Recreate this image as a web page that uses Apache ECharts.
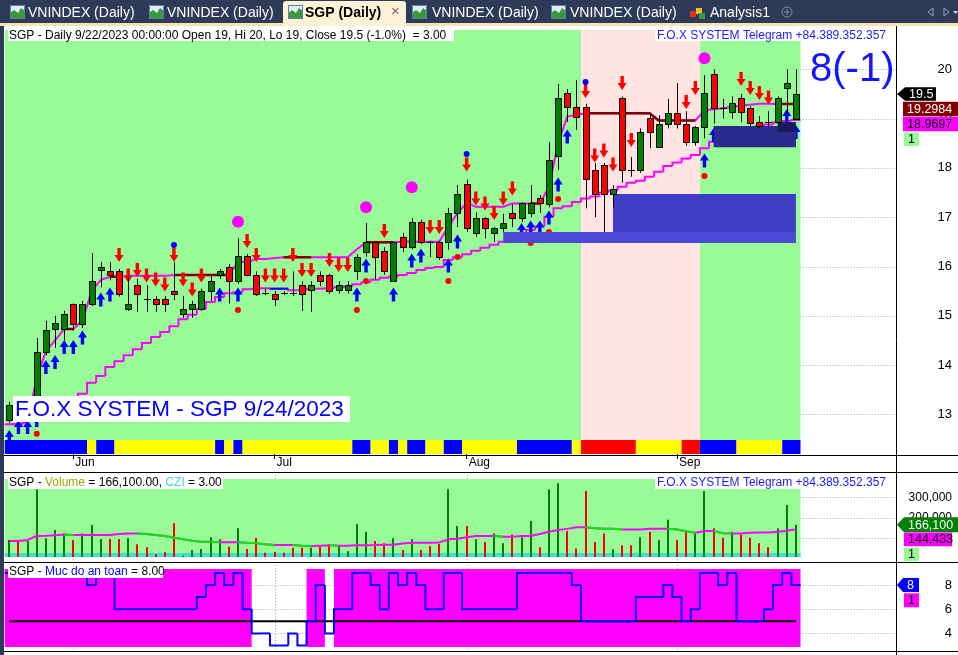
<!DOCTYPE html>
<html><head><meta charset="utf-8">
<script src="https://cdn.jsdelivr.net/npm/echarts@6/dist/echarts.min.js"></script>
<style>html,body{margin:0;padding:0;background:#fff}#c{width:958px;height:655px}</style>
</head><body><div id="c"></div>
<script>
// ---------------- DATA ----------------
const dates = [
 '2023-05-23','2023-05-24','2023-05-25','2023-05-26','2023-05-29','2023-05-30','2023-05-31',
 '2023-06-01','2023-06-02','2023-06-05','2023-06-06','2023-06-07','2023-06-08','2023-06-09','2023-06-12','2023-06-13','2023-06-14','2023-06-15','2023-06-16','2023-06-19','2023-06-20','2023-06-21','2023-06-22','2023-06-23','2023-06-26','2023-06-27','2023-06-28','2023-06-29','2023-06-30',
 '2023-07-03','2023-07-04','2023-07-05','2023-07-06','2023-07-07','2023-07-10','2023-07-11','2023-07-12','2023-07-13','2023-07-14','2023-07-17','2023-07-18','2023-07-19','2023-07-20','2023-07-21','2023-07-24','2023-07-25','2023-07-26','2023-07-27','2023-07-28','2023-07-31',
 '2023-08-01','2023-08-02','2023-08-03','2023-08-04','2023-08-07','2023-08-08','2023-08-09','2023-08-10','2023-08-11','2023-08-14','2023-08-15','2023-08-16','2023-08-17','2023-08-18','2023-08-21','2023-08-22','2023-08-23','2023-08-24','2023-08-25','2023-08-28','2023-08-29','2023-08-30','2023-08-31',
 '2023-09-05','2023-09-06','2023-09-07','2023-09-08','2023-09-11','2023-09-12','2023-09-13','2023-09-14','2023-09-15','2023-09-18','2023-09-19','2023-09-20','2023-09-21','2023-09-22'];
const monthNames = ['Jan','Feb','Mar','Apr','May','Jun','Jul','Aug','Sep','Oct','Nov','Dec'];

const open = [12.89,13.15,13.05,13.10,14.27,14.73,14.73,15.24,14.83,15.24,
 15.93,15.90,15.90,15.14,15.62,15.34,15.34,15.34,15.50,15.03,
 15.14,15.14,15.50,15.82,16.00,15.71,16.21,15.82,15.46,15.44,
 15.46,15.46,15.62,15.52,15.82,15.82,15.52,15.52,15.90,16.29,
 16.49,16.31,15.71,16.60,16.39,16.90,16.49,16.49,16.49,17.09,
 17.67,16.68,16.98,16.68,16.78,17.09,16.98,17.09,17.39,17.27,
 18.24,19.52,19.23,19.23,17.96,18.06,17.47,19.42,17.96,17.96,
 19.01,18.42,18.90,19.11,18.90,18.52,18.83,19.90,19.21,19.13,
 19.42,19.21,18.93,18.93,18.93,19.62,19.00];
const high = [13.25,13.30,13.25,14.55,14.90,15.00,15.10,15.25,15.30,16.27,
 16.09,16.09,15.95,15.79,15.75,15.62,15.40,15.40,16.09,15.40,
 15.30,15.55,15.80,15.95,16.05,16.57,16.25,15.90,15.55,15.50,
 15.50,15.90,15.70,15.70,15.90,15.85,15.70,15.70,16.25,16.88,
 16.50,16.39,16.50,16.68,16.98,16.95,16.52,16.52,17.19,17.65,
 17.76,17.10,17.00,16.80,17.07,17.26,17.30,17.65,17.45,18.52,
 19.70,19.60,19.78,19.30,18.10,18.10,17.65,19.45,18.22,18.80,
 19.10,19.07,19.40,19.72,19.15,18.85,19.88,20.00,19.40,19.45,
 19.50,19.25,19.05,19.15,19.45,20.00,20.00];
const low = [12.83,12.95,12.95,13.00,14.20,14.35,14.50,14.70,14.75,15.20,
 15.58,15.72,15.39,15.10,15.08,15.08,15.08,15.08,15.32,14.96,
 14.96,15.10,15.30,15.75,15.25,15.65,15.80,15.40,15.42,15.20,
 15.42,15.40,15.10,15.08,15.60,15.45,15.45,15.45,15.73,16.20,
 15.73,15.83,15.70,16.29,16.35,16.45,16.19,16.13,16.34,16.80,
 16.70,16.60,16.57,16.50,16.70,16.80,16.90,17.00,17.09,17.20,
 17.96,18.93,18.77,17.18,17.00,16.70,17.20,17.70,17.82,17.90,
 18.40,18.42,18.80,18.80,18.45,18.45,18.60,18.90,19.00,19.00,
 18.93,18.83,18.80,18.85,18.90,19.10,19.00];
const close = [13.19,13.05,13.15,14.27,14.71,14.85,15.03,14.83,15.24,15.71,
 16.00,15.82,15.44,15.24,15.44,15.34,15.24,15.24,15.44,15.14,
 15.24,15.50,15.71,15.90,15.71,16.21,15.82,15.44,15.46,15.34,
 15.46,15.46,15.44,15.62,15.71,15.50,15.62,15.62,16.19,16.49,
 16.19,15.90,16.49,16.39,16.90,16.49,16.49,16.19,17.09,17.47,
 16.78,16.98,16.78,16.78,16.88,16.98,17.29,17.29,17.29,18.16,
 19.42,19.23,19.03,17.77,17.47,17.47,17.57,17.96,17.96,18.73,
 18.73,18.90,19.11,18.90,18.52,18.83,19.52,19.21,19.21,19.32,
 19.13,18.92,18.85,18.93,19.42,19.72,19.50];

// fast trend line (magenta) and its flat resistance parts (dark red)
const fastLine = [12.80,12.80,12.85,13.75,14.28,14.50,14.73,14.73,14.90,15.50,
 15.73,15.79,15.79,15.81,15.81,15.81,15.81,15.81,15.83,15.83,
 15.83,15.83,15.83,15.83,15.83,16.09,16.09,16.15,16.15,16.17,
 16.19,16.19,16.19,16.19,16.19,16.19,16.19,16.19,16.35,16.49,
 16.49,16.49,16.49,16.50,16.50,16.50,16.50,16.50,16.81,17.08,
 17.29,17.21,17.21,17.21,17.21,17.28,17.28,17.28,17.28,17.62,
 18.50,19.04,19.08,19.11,19.11,19.11,19.11,19.11,19.11,19.11,
 19.11,18.96,18.96,18.96,18.96,18.96,19.17,19.19,19.21,19.24,
 19.26,19.28,19.30,19.30,19.2984,19.2984,19.2984];
const resistance = [null,null,null,null,null,null,14.73,14.73,null,null,
 null,15.79,15.79,null,null,null,null,null,15.83,15.83,
 15.83,15.83,15.83,15.83,15.83,null,null,null,null,null,
 16.19,16.19,16.19,16.19,null,null,null,null,null,16.49,
 16.49,16.49,16.49,null,null,null,null,null,null,null,
 null,null,null,null,null,null,null,17.28,17.28,null,
 null,null,null,19.11,19.11,19.11,19.11,19.11,19.11,19.11,
 19.11,18.96,18.96,18.96,18.96,18.96,null,null,null,null,
 null,null,null,null,19.2984,19.2984,19.2984];
// slow trailing line (magenta staircase) and its flat part (blue)
const slowLine = [12.80,12.80,12.88,12.96,13.05,13.14,13.22,13.32,13.42,13.64,
 13.78,13.96,14.08,14.20,14.32,14.45,14.57,14.67,14.79,14.93,
 15.02,15.14,15.28,15.38,15.46,15.48,15.54,15.55,15.56,15.55,
 15.55,15.52,15.52,15.55,15.55,15.56,15.58,15.59,15.64,15.68,
 15.73,15.77,15.79,15.83,15.87,15.93,15.97,15.99,16.13,16.19,
 16.25,16.32,16.38,16.44,16.50,16.58,16.66,16.74,16.81,17.01,
 17.18,17.22,17.31,17.38,17.42,17.50,17.54,17.62,17.70,17.74,
 17.82,17.92,18.04,18.11,18.19,18.26,18.40,18.53,18.60,18.67,
 18.73,18.79,18.84,18.88,18.92,18.95,18.9697];
const slowFlat = [[29,15.55],[30,15.55]];

// bottom ribbon state per bar (B blue, Y yellow, R red) and background regime (0 green, 1 pink)
const ribbon = ['B','B','B','B','B','B','B','B','B','Y','B','B','Y','Y','Y','Y','Y','Y','Y','Y',
 'Y','Y','Y','B','Y','B','Y','Y','Y','Y','Y','Y','Y','Y','Y','Y','Y','Y','B','B',
 'Y','Y','B','Y','B','B','Y','Y','B','B','Y','Y','Y','Y','Y','Y','B','B','B','B',
 'B','B','Y','R','R','R','R','R','R','Y','Y','Y','Y','Y','R','R','B','B','B','B',
 'Y','Y','Y','Y','Y','B','B'];
const regime = [0,0,0,0,0,0,0,0,0,0,0,0,0,0,0,0,0,0,0,0,0,0,0,0,0,0,0,0,0,0,
 0,0,0,0,0,0,0,0,0,0,0,0,0,0,0,0,0,0,0,0,0,0,0,0,0,0,0,0,0,0,
 0,0,0,1,1,1,1,1,1,1,1,1,1,1,1,1,0,0,0,0,0,0,0,0,0,0,0];

// signals: [bar, price]
const sellArrows = [[12,16.233],[13,15.817],[14,15.929],[15,15.817],[16,15.736],[17,15.635],[18,16.233],[19,15.736],[20,15.533],[21,15.817],
 [26,16.517],[27,16.233],[28,15.817],[29,15.817],[30,15.817],[31,16.233],[32,15.929],[33,15.929],[35,16.132],[36,16.030],[37,16.030],
 [41,16.720],[46,16.801],[47,16.801],[50,18.069],[51,17.379],[52,17.278],[53,17.085],[54,17.379],[55,17.582],
 [63,19.560],[64,18.252],[65,18.353],[66,18.069],[67,19.722],[68,18.566],[74,19.337],[75,19.621],[80,19.803],[81,19.621],[82,19.519],[83,19.428]];
const buyArrows = [[0,12.54],[1,12.744],[2,12.744],[3,12.886],[4,13.961],[5,14.063],[6,14.367],[7,14.367],[8,14.560],[10,15.331],[11,15.432],
 [23,15.432],[25,15.432],[38,15.432],[39,16.020],[42,15.432],[44,16.122],[45,16.223],[48,16.020],[49,16.507],
 [56,16.740],[57,16.791],[58,16.791],[59,16.994],[60,17.663],[61,18.637],[76,18.150],[77,18.667],[85,19.053],[86,18.728]];
const redDots = [[3,12.606],[25,15.118],[38,15.118],[39,15.706],[48,15.706],[49,16.193],[57,16.477],[59,16.700],[60,17.369],[76,17.836]];
const blueDots = [[18,16.436],[50,18.282],[63,19.742]];
const magentaCircles = [[25,16.909],[39,17.201],[44,17.606],[76,20.223]];
// zones: [fromBar, toBar, low, high, kind]
const zones = [[54,86,16.477,16.70,0],[66,86,16.70,17.47,1],[77,86,18.42,18.85,2],[84,86,18.73,18.93,3]];

const volume = [92000,87000,87000,339000,100000,140000,124000,92000,124000,165000,
 97000,97000,97000,100000,71000,56000,23000,32000,173000,15000,
 43000,48000,105000,95000,59000,149000,48000,102000,30000,33000,
 30000,54000,54000,54000,62000,71000,62000,37000,170000,132000,
 87000,76000,100000,43000,95000,43000,62000,72000,339000,160000,
 160000,95000,82000,124000,76000,119000,105000,184000,56000,339000,
 368000,136000,50000,331000,82000,124000,46000,66000,66000,105000,
 132000,92000,190000,92000,140000,127000,331000,149000,103000,132000,
 117000,103000,76000,56000,149000,262000,166100];
const volumeMA = [87000,87000,92000,111000,112000,115000,118000,116000,116000,116000,
 116000,116000,121000,124000,124000,121000,116000,111000,103000,95000,
 88000,83000,83000,81000,81000,81000,78000,76000,71000,67000,
 67000,67000,64000,62000,64000,66000,64000,64000,66000,66000,
 67000,69000,69000,75000,78000,78000,78000,80000,95000,98000,
 105000,111000,111000,111000,108000,108000,111000,111000,121000,132000,
 140000,146000,154000,154000,149000,146000,146000,143000,143000,143000,
 146000,146000,146000,143000,134000,127000,136000,136000,125000,124000,
 124000,127000,128000,128000,132000,137000,144433];

// "Muc do an toan" (safety level) per bar
const safety = [9,9,9,9,9,9,9,9,9,8,9,9,6,6,6,6,6,6,6,6,
 6,7,8,9,8,9,6,4,4,3,3,4,3,5,8,4,6,6,9,9,
 8,6,9,8,9,8,6,6,9,9,6,6,6,6,6,6,9,9,9,9,
 9,9,8,5,5,5,5,5,5,7,7,7,8,7,5,6,9,9,8,9,
 5,5,5,6,8,9,8];
const safetyThreshold = 5;

const priceTicks = [13,14,15,16,17,18,19,20];
const volumeTicks = [100000,200000,300000];
const safetyTicks = [4,6,8];

// ---------------- CHART ----------------
const FONT = '"Liberation Sans", Arial, sans-serif';
const N = close.length;
const X_MIN = -0.5, X_MAX = 96.94;
const monthStarts = [];
for (let i = 1; i < N; i++) if (dates[i].slice(5,7) !== dates[i-1].slice(5,7)) monthStarts.push(i);

const chart = echarts.init(document.getElementById('c'), null, {renderer:'canvas', width:958, height:655});

function runs(arr, key) {
  const out = []; let s = 0;
  for (let i = 1; i <= arr.length; i++) {
    if (i === arr.length || key(arr[i]) !== key(arr[s])) { out.push([s, i - 1, key(arr[s])]); s = i; }
  }
  return out;
}
function stairs(values, color, width) {
  return function (params, api) {
    const i = api.value(0), v = api.value(1);
    const pts = [];
    const prev = i > 0 ? values[i - 1] : null;
    if (prev != null) pts.push(api.coord([i - 0.5, prev]));
    pts.push(api.coord([i - 0.5, v]), api.coord([i + 0.5, v]));
    return {type:'polyline', shape:{points:pts}, style:{stroke:color, lineWidth:width, fill:'none'}};
  };
}
const gridBase = {left:4.73, width:891.27};
const xBase = (g) => ({gridIndex:g, type:'value', min:X_MIN, max:X_MAX, show:g===0,
  axisLine:{show:false}, splitLine:{show:false},
  axisTick:{show:g===0, customValues:monthStarts, length:5, lineStyle:{color:'#000'}},
  axisLabel:{show:g===0, customValues:monthStarts, formatter:(v)=>monthNames[+dates[Math.round(v)].slice(5,7)-1],
    align:'left', margin:3, color:'#000', fontSize:12, fontFamily:FONT, padding:[0,0,0,2]}});
const yBase = (g, min, max, ticks, fmt, fs) => ({gridIndex:g, type:'value', min, max, position:'right',
  axisLine:{show:false}, splitLine:{show:false},
  axisTick:{show:true, customValues:ticks, length:4, lineStyle:{color:'#000'}},
  axisLabel:{customValues:ticks, formatter:fmt, align:'right', margin:56, color:'#000', fontSize:fs, fontFamily:FONT}});

const ribbonColor = {B:'#0000ff', Y:'#ffff00', R:'#ff0000'};
const zoneColors = ['#4a4ad6', '#3f3fc6', '#2b2b8e', '#1b1b5c'];

const series = [];
// price background
series.push({type:'custom', xAxisIndex:0, yAxisIndex:0, z:1, silent:true, clip:true,
  data: runs(regime, v=>v), encode:{x:[0,1]},
  renderItem(params, api) {
    const cs = params.coordSys;
    const x1 = api.coord([api.value(0) - 0.5, 15])[0], x2 = api.coord([api.value(1) + 0.5, 15])[0];
    return {type:'rect', shape:{x:x1, y:cs.y, width:x2 - x1, height:cs.height - 14},
      style:{fill: api.value(2) === 1 ? '#ffe4e1' : '#98fb98'}};
  }});
// ribbon
series.push({type:'custom', xAxisIndex:0, yAxisIndex:0, z:9, silent:true,
  data: runs(ribbon, v=>'BYR'.indexOf(v)), encode:{x:[0,1]},
  renderItem(params, api) {
    const cs = params.coordSys;
    const x1 = api.coord([api.value(0) - 0.5, 15])[0], x2 = api.coord([api.value(1) + 0.5, 15])[0];
    return {type:'rect', shape:{x:x1, y:cs.y + cs.height - 14, width:x2 - x1, height:14},
      style:{fill: ribbonColor['BYR'[api.value(2)]]}};
  }});
// fast line + resistance
series.push({type:'line', xAxisIndex:0, yAxisIndex:0, z:3, silent:true, showSymbol:false, symbol:'none',
  data: fastLine.map((v,i)=>[i,v]), lineStyle:{color:'#ff00ff', width:2}});
series.push({type:'line', xAxisIndex:0, yAxisIndex:0, z:3, silent:true, showSymbol:false, symbol:'none', connectNulls:false,
  data: resistance.map((v,i)=>[i, v == null ? '-' : v]), lineStyle:{color:'#800000', width:2.5}});
// slow staircase
series.push({type:'custom', xAxisIndex:0, yAxisIndex:0, z:3, silent:true,
  data: slowLine.map((v,i)=>[i,v]), renderItem: stairs(slowLine, '#ff00ff', 2)});
const slowFlatArr = new Array(N).fill(null); slowFlat.forEach(([i,v])=>{slowFlatArr[i]=v;});
series.push({type:'custom', xAxisIndex:0, yAxisIndex:0, z:3, silent:true,
  data: slowFlat, renderItem: stairs(slowFlatArr, '#0000ff', 2)});
// signals
series.push({type:'scatter', xAxisIndex:0, yAxisIndex:0, z:4, silent:true, data:sellArrows,
  symbol:'path://M2.8,0L6.2,0L6.2,7L9,7L4.5,14L0,7L2.8,7Z', symbolSize:[9,14], itemStyle:{color:'#ff0000', opacity:1}});
series.push({type:'scatter', xAxisIndex:0, yAxisIndex:0, z:4, silent:true, data:buyArrows,
  symbol:'path://M4.5,0L9,7L6.2,7L6.2,14L2.8,14L2.8,7L0,7Z', symbolSize:[9,14], itemStyle:{color:'#0000ff', opacity:1}});
series.push({type:'scatter', xAxisIndex:0, yAxisIndex:0, z:4, silent:true, data:redDots,
  symbol:'circle', symbolSize:6, itemStyle:{color:'#ff0000', opacity:1}});
series.push({type:'scatter', xAxisIndex:0, yAxisIndex:0, z:4, silent:true, data:blueDots,
  symbol:'circle', symbolSize:6, itemStyle:{color:'#0000ff', opacity:1}});
series.push({type:'scatter', xAxisIndex:0, yAxisIndex:0, z:4, silent:true, data:magentaCircles,
  symbol:'circle', symbolSize:12, itemStyle:{color:'#ff00ff', opacity:1}});
// zones
series.push({type:'custom', xAxisIndex:0, yAxisIndex:0, z:5, silent:true, data:zones, encode:{x:[0,1], y:[2,3]},
  renderItem(params, api) {
    const a = api.coord([api.value(0), api.value(3)]), b = api.coord([api.value(1), api.value(2)]);
    return {type:'rect', shape:{x:a[0], y:a[1], width:b[0]-a[0], height:b[1]-a[1]}, style:{fill: zoneColors[api.value(4)]}};
  }});
// candles
series.push({type:'custom', xAxisIndex:0, yAxisIndex:0, z:6, silent:true,
  data: close.map((c,i)=>[i, open[i], c, low[i], high[i]]), encode:{x:0, y:[1,2,3,4]},
  renderItem(params, api) {
    const i = api.value(0), o = api.value(1), c = api.value(2), l = api.value(3), h = api.value(4);
    const pO = api.coord([i,o]), pC = api.coord([i,c]), pL = api.coord([i,l]), pH = api.coord([i,h]);
    const x = Math.round(pO[0]) + 0.5;
    const ch = [{type:'line', shape:{x1:x, y1:pH[1], x2:x, y2:pL[1]}, style:{stroke:'#000', lineWidth:1}}];
    if (o === c) ch.push({type:'line', shape:{x1:x-3.5, y1:Math.round(pO[1])+0.5, x2:x+3.5, y2:Math.round(pO[1])+0.5}, style:{stroke:'#000', lineWidth:1}});
    else {
      const top = Math.round(Math.min(pO[1], pC[1])) + 0.5, bot = Math.round(Math.max(pO[1], pC[1])) + 0.5;
      ch.push({type:'rect', shape:{x:x-3, y:top, width:6, height:Math.max(bot-top,1)},
        style:{fill: c > o ? '#008000' : '#ff0000', stroke:'#000', lineWidth:1}});
    }
    return {type:'group', children:ch};
  }});
// volume panel
series.push({type:'custom', xAxisIndex:1, yAxisIndex:1, z:1, silent:true, data:[[0, N-1]], encode:{x:[0,1]},
  renderItem(params, api) {
    const cs = params.coordSys;
    const x1 = api.coord([api.value(0) - 0.5, 100000])[0], x2 = api.coord([api.value(1) + 0.5, 100000])[0];
    return {type:'group', children:[
      {type:'rect', shape:{x:x1, y:cs.y, width:x2-x1, height:cs.height}, style:{fill:'#98fb98'}},
      {type:'rect', shape:{x:x1, y:cs.y + cs.height - 4, width:x2-x1, height:4}, style:{fill:'#40e0d0'}}]};
  }});
series.push({type:'custom', xAxisIndex:1, yAxisIndex:1, z:3, silent:true,
  data: volume.map((v,i)=>[i,v]),
  renderItem(params, api) {
    const cs = params.coordSys; const i = api.value(0);
    const p = api.coord([i, api.value(1)]);
    const x = Math.round(p[0]) - 1;
    return {type:'rect', shape:{x:x, y:p[1], width:2, height:cs.y + cs.height - p[1]},
      style:{fill: close[i] > open[i] ? '#008000' : '#ff0000'}};
  }});
series.push({type:'line', xAxisIndex:1, yAxisIndex:1, z:4, silent:true, symbol:'none',
  data: volumeMA.map((v,i)=>[i,v]), lineStyle:{color:'#ff00ff', width:2}});
series.push({type:'line', xAxisIndex:1, yAxisIndex:1, z:4, silent:true, symbol:'none', connectNulls:false,
  data: volumeMA.map((v,i)=>{
    const fallIn = i > 0 && v < volumeMA[i-1];
    const fallOut = i < N-1 && volumeMA[i+1] < v;
    return [i, (fallIn || fallOut) ? v : '-'];
  }), lineStyle:{color:'#00ee00', width:2}});
// safety panel
series.push({type:'custom', xAxisIndex:2, yAxisIndex:2, z:1, silent:true,
  data: runs(safety, v => v >= safetyThreshold ? 1 : 0).filter(r=>r[2]===1), encode:{x:[0,1]},
  renderItem(params, api) {
    const cs = params.coordSys;
    const x1 = api.coord([api.value(0) - 0.5, 5])[0], x2 = api.coord([api.value(1) + 0.5, 5])[0];
    return {type:'rect', shape:{x:x1, y:cs.y, width:x2-x1, height:cs.height}, style:{fill:'#ff00ff'}};
  }});
series.push({type:'line', xAxisIndex:2, yAxisIndex:2, z:3, silent:true, symbol:'none',
  data: safety.map((v,i)=>[i, safetyThreshold]), lineStyle:{color:'#000', width:2}});
series.push({type:'custom', xAxisIndex:2, yAxisIndex:2, z:4, silent:true,
  data: safety.map((v,i)=>[i,v]), renderItem: stairs(safety, '#0000ff', 2)});

chart.setOption({
  backgroundColor:'#ffffff',
  animation:false,
  textStyle:{fontFamily:FONT},
  grid:[
    Object.assign({top:30, height:424}, gridBase),
    Object.assign({top:479, height:78}, gridBase),
    Object.assign({top:569, height:78}, gridBase)],
  xAxis:[xBase(0), xBase(1), xBase(2)],
  yAxis:[
    yBase(0, 12.197, 20.797, priceTicks, v=>String(v), 13),
    yBase(1, 8780, 389268, volumeTicks, v=>Number(v).toLocaleString('en-US'), 12),
    yBase(2, 2.876, 9.322, safetyTicks, v=>String(v), 13)],
  series
});

// ---------------- OVERLAYS ----------------
const px = (g, x, y) => chart.convertToPixel({gridIndex:g}, [x, y]);
const G = [];
const T = (o) => { o.style.font = o.style.font || ('12px ' + FONT); o.style.textVerticalAlign = o.style.textVerticalAlign || 'middle'; o.style.verticalAlign = o.style.textVerticalAlign; if (o.style.textAlign) o.style.align = o.style.textAlign; o.type = 'text'; o.z = o.z || 70; G.push(o); };
const R = (x, y, w, h, fill, z, extra) => G.push(Object.assign({type:'rect', shape:{x, y, width:w, height:h}, style:{fill}, z: z || 60}, extra || {}));
const L = (x1, y1, x2, y2, stroke, w, z, dash) => G.push({type:'line', shape:{x1, y1, x2, y2}, style:{stroke, lineWidth:w || 1, lineDash: dash || null}, z: z == null ? 60 : z});

// dotted grid lines (under series)
const xRight = 896;
priceTicks.forEach(v => { const y = Math.round(px(0, 0, v)[1]) + 0.5; L(4.7, y, xRight, y, '#a8a8a8', 1, -1, [1,2]); });
volumeTicks.forEach(v => { const y = Math.round(px(1, 0, v)[1]) + 0.5; L(4.7, y, xRight, y, '#a8a8a8', 1, -1, [1,2]); });
safetyTicks.forEach(v => { const y = Math.round(px(2, 0, v)[1]) + 0.5; L(4.7, y, xRight, y, '#a8a8a8', 1, -1, [1,2]); });
monthStarts.forEach(i => { const x = Math.round(px(0, i, 15)[0]) + 0.5; L(x, 472, x, 651, '#a8a8a8', 1, -1, [1,2]); });

// frame lines
L(0, 455.5, 958, 455.5, '#000', 1);
L(0, 472.5, 958, 472.5, '#000', 1);
L(0, 562.5, 958, 562.5, '#000', 1);
L(0, 651.5, 958, 651.5, '#000', 1);
L(896.5, 26, 896.5, 655, '#000', 1);
R(0, 24, 4, 631, '#2d3b58', 80);

// tab bar
R(0, 0, 958, 24, '#2d3b58', 80);
R(0, 23, 958, 3, '#f8e3b4', 81);
R(283, 1, 123, 25, '#fdf1d6', 82, {shape:{x:283, y:1, width:123, height:25, r:[3,3,0,0]}});
function tabIcon(x) {
  R(x, 5, 15, 14, '#dfeefc', 83);
  G.push({type:'polygon', shape:{points:[[x,19],[x,13],[x+4,10],[x+8,13],[x+11,8],[x+15,11],[x+15,19]]}, style:{fill:'#3a9a3a'}, z:84});
  G.push({type:'rect', shape:{x:x+0.5, y:5.5, width:14, height:13}, style:{fill:'none', stroke:'#5a7fb0', lineWidth:1}, z:85});
}
const tabFont = '14px ' + FONT;
[[10,28,'VNINDEX (Daily)'],[149,167,'VNINDEX (Daily)'],[412,432,'VNINDEX (Daily)'],[551,570,'VNINDEX (Daily)']].forEach(([ix, tx, t]) => {
  tabIcon(ix); T({style:{text:t, x:tx, y:13, fill:'#ffffff', font:tabFont}, z:86});
});
tabIcon(288);
T({style:{text:'SGP (Daily)', x:305, y:13, fill:'#000', font:'bold 14px ' + FONT}, z:86});
T({style:{text:'\u00d7', x:391, y:12, fill:'#666', font:'15px ' + FONT}, z:86});
// analysis icon (cubes)
R(690, 11, 6, 6, '#e03030', 86); R(696, 8, 6, 6, '#f0c020', 86); R(699, 13, 6, 6, '#30a040', 86);
T({style:{text:'Analysis1', x:710, y:13, fill:'#ffffff', font:tabFont}, z:86});
G.push({type:'circle', shape:{cx:787, cy:12, r:5}, style:{fill:'none', stroke:'#7f8ba3', lineWidth:1}, z:86});
L(784, 12, 790, 12, '#7f8ba3', 1, 86); L(787, 9, 787, 15, '#7f8ba3', 1, 86);
G.push({type:'polygon', shape:{points:[[928,12],[933,8],[933,16]]}, style:{fill:'none', stroke:'#9aa6bb', lineWidth:1}, z:86});
G.push({type:'polygon', shape:{points:[[944,8],[949,12],[944,16]]}, style:{fill:'none', stroke:'#9aa6bb', lineWidth:1}, z:86});
G.push({type:'polygon', shape:{points:[[953,11],[958,11],[955.5,14]]}, style:{fill:'#d0d6e0'}, z:86});

// titles
R(8, 30, 446, 11, '#fff', 60);
T({style:{text:'SGP - Daily 9/22/2023 00:00:00 Open 19, Hi 20, Lo 19, Close 19.5 (-1.0%)  = 3.00', x:9, y:35.5, fill:'#000'}});
R(655, 30, 232, 11, '#fff', 60);
T({style:{text:'F.O.X SYSTEM Telegram +84.389.352.357', x:886, y:35.5, fill:'#1c1cff', textAlign:'right'}});
T({style:{text:'8(-1)', x:810, y:70, fill:'#1414ff', font:'40px ' + FONT}});
R(13, 396, 337, 26, '#fff', 60);
T({style:{text:'F.O.X SYSTEM - SGP 9/24/2023', x:15, y:409.5, fill:'#0000ff', font:'22.5px ' + FONT}});

R(8, 475, 215, 14, '#fff', 60);
T({style:{text:'{a|SGP - }{b|Volume}{a| = 166,100.00, }{c|CZI}{a| = 3.00}', x:9, y:482.5,
  rich:{a:{fill:'#000', font:'12px ' + FONT}, b:{fill:'#a3a300', font:'12px ' + FONT}, c:{fill:'#40d8e8', font:'12px ' + FONT}}}});
R(655, 477, 232, 12, '#fff', 60);
T({style:{text:'F.O.X SYSTEM Telegram +84.389.352.357', x:886, y:482.5, fill:'#1c1cff', textAlign:'right'}});

R(8, 566, 155, 12, '#fff', 60);
T({style:{text:'{a|SGP - }{b|Muc do an toan}{a| = 8.00}', x:9, y:572,
  rich:{a:{fill:'#000', font:'12px ' + FONT}, b:{fill:'#0000ff', font:'12px ' + FONT}}}});

// value tags
function tag(xBody, xRight, top, h, fill, txt, txtColor, arrow) {
  if (arrow) G.push({type:'polygon', shape:{points:[[897, top + h/2],[xBody, top],[xRight, top],[xRight, top + h],[xBody, top + h]]}, style:{fill}, z:90});
  else G.push({type:'rect', shape:{x:xBody, y:top, width:xRight - xBody, height:h}, style:{fill}, z:90});
  T({style:{text:txt, x:xBody + 4, y:top + h/2 + 0.5, fill:txtColor, font:'12.5px ' + FONT}, z:91});
}
const last = N - 1;
const yc0 = px(0, last, close[last])[1];
tag(905, 936, yc0 - 6.7, 13.4, '#000000', String(close[last]), '#fff', true);
tag(903, 958, yc0 + 7.7, 14.7, '#800000', fastLine[last].toFixed(4), '#fff', false);
tag(903, 958, yc0 + 22.7, 14.7, '#ff00ff', slowLine[last].toFixed(4), '#000', false);
tag(904, 919, yc0 + 38.5, 13.6, '#98fb98', '1', '#000', false);
const yc1 = px(1, last, volume[last])[1];
tag(904, 958, yc1 - 7.5, 15, '#008000', volume[last].toLocaleString('en-US'), '#fff', true);
tag(904, 952, yc1 + 7.8, 13.6, '#ff00ff', volumeMA[last].toLocaleString('en-US'), '#000', false);
tag(904, 919, yc1 + 22.8, 13.6, '#98fb98', '1', '#000', false);
const yc2 = px(2, last, safety[last])[1];
tag(903, 919, yc2 - 7, 14, '#0000ff', String(safety[last]), '#fff', true);
tag(904, 919, yc2 + 8.3, 14, '#ff00ff', '1', '#000', false);

chart.setOption({graphic:{elements:G}});
</script>
</body></html>
